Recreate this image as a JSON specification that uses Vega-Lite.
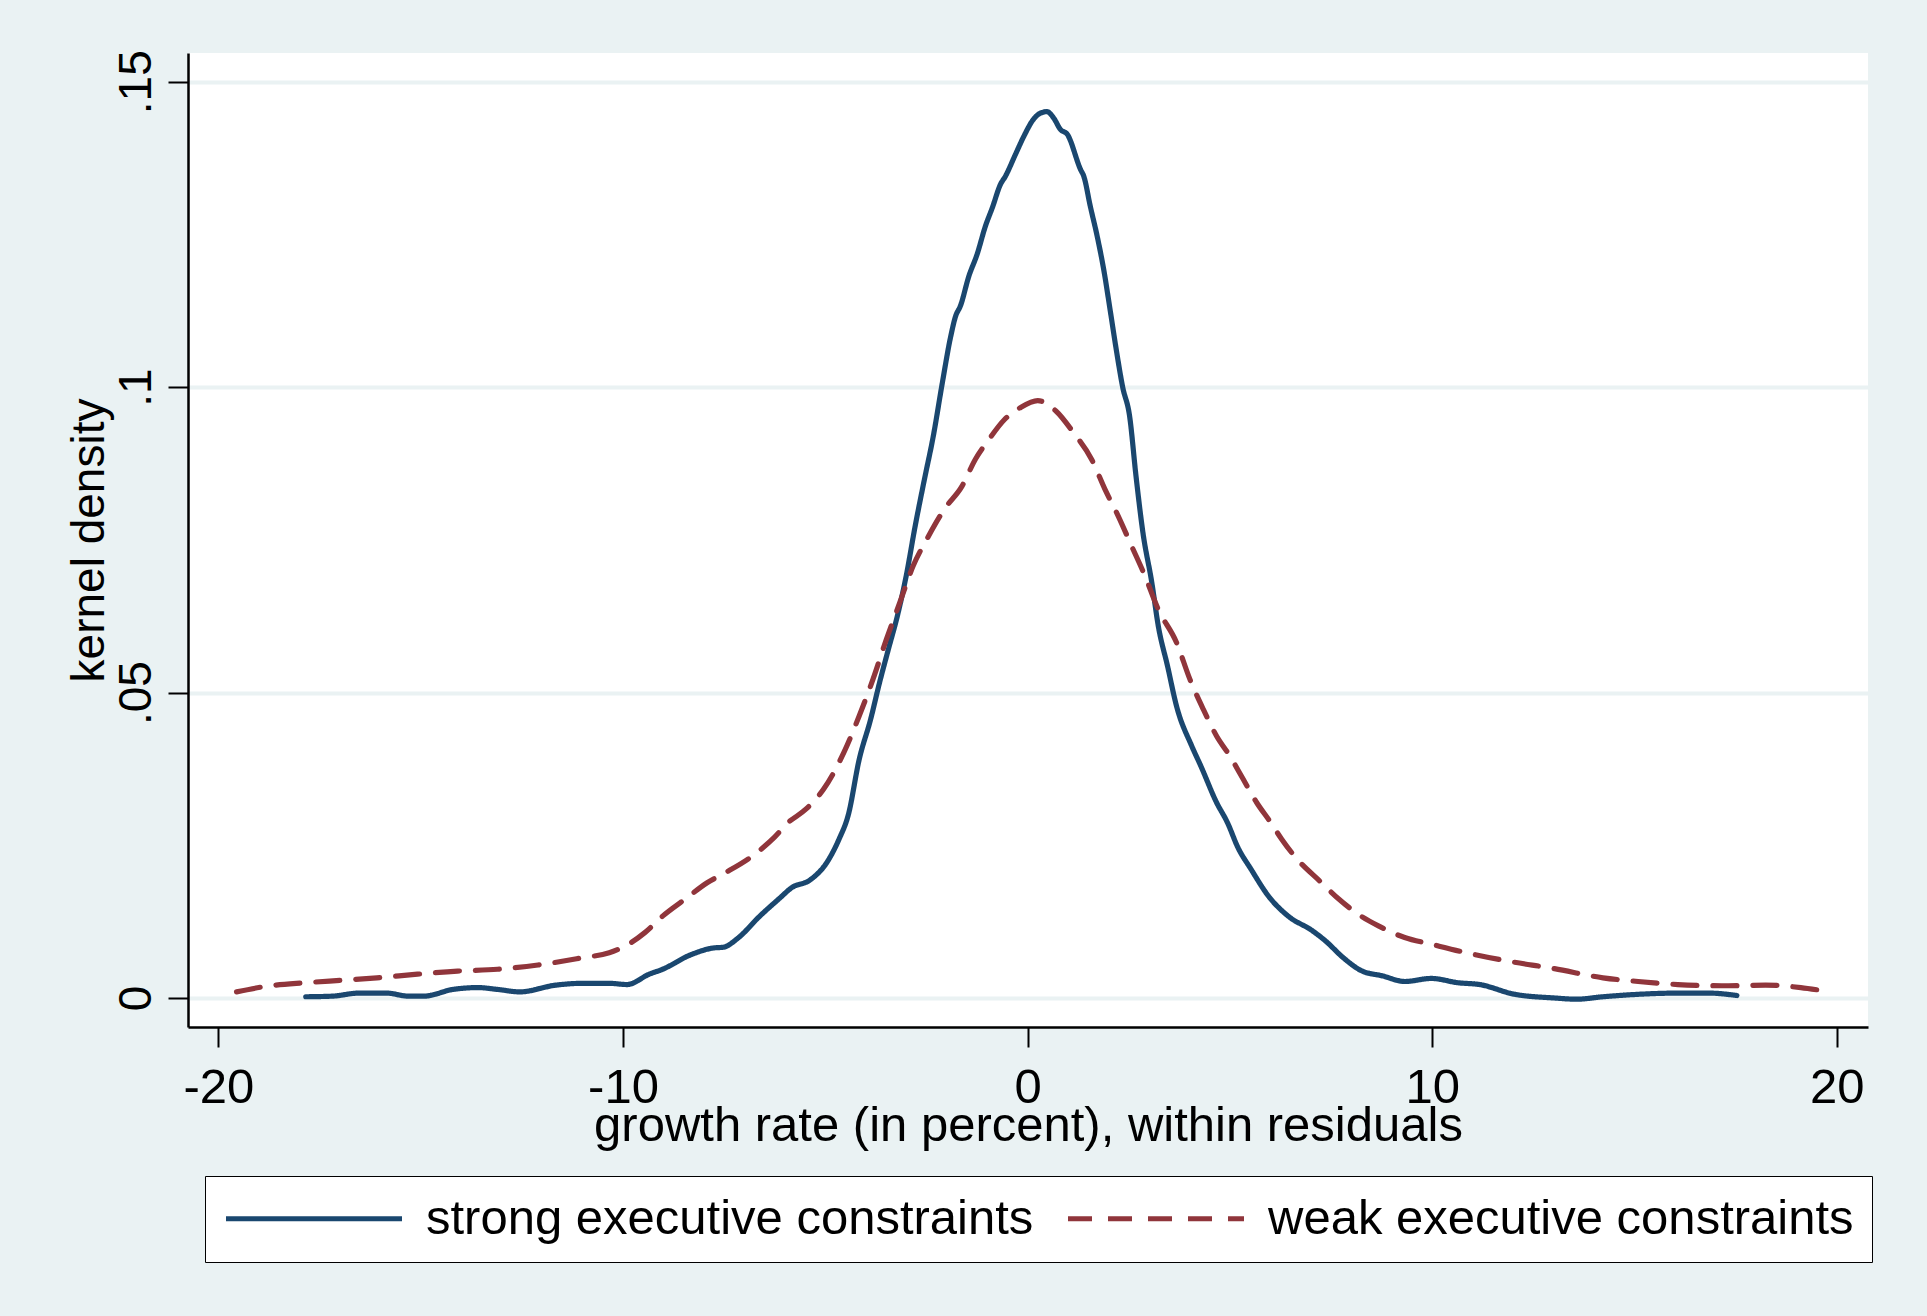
{
  "$schema": "https://vega.github.io/schema/vega-lite/v6.json",
  "width": 1680,
  "height": 974,
  "autosize": {"type": "none"},
  "padding": {"left": 188, "top": 53, "right": 59, "bottom": 289},
  "background": "#eaf2f3",
  "config": {
    "view": {"fill": "white", "stroke": null},
    "font": "Liberation Sans",
    "axis": {
      "domainColor": "black",
      "domainWidth": 2.5,
      "tickColor": "black",
      "tickWidth": 2,
      "tickSize": 20,
      "labelColor": "black",
      "labelFontSize": 49,
      "labelFont": "Liberation Sans",
      "titleColor": "black",
      "titleFontSize": 49,
      "titleFont": "Liberation Sans",
      "titleFontWeight": "normal",
      "labelOverlap": false,
      "labelFlush": false
    },
    "legend": {
      "labelFontSize": 49,
      "labelFont": "Liberation Sans",
      "labelColor": "black",
      "labelLimit": 2000
    }
  },
  "data": {
    "values": [
      {"series": "strong executive constraints", "x": -17.84, "y": 0.0002},
      {"series": "strong executive constraints", "x": -17.18, "y": 0.0003},
      {"series": "strong executive constraints", "x": -16.52, "y": 0.0008},
      {"series": "strong executive constraints", "x": -15.85, "y": 0.0008},
      {"series": "strong executive constraints", "x": -15.30, "y": 0.0003},
      {"series": "strong executive constraints", "x": -14.92, "y": 0.0003},
      {"series": "strong executive constraints", "x": -14.20, "y": 0.0014},
      {"series": "strong executive constraints", "x": -13.59, "y": 0.0017},
      {"series": "strong executive constraints", "x": -13.10, "y": 0.0014},
      {"series": "strong executive constraints", "x": -12.55, "y": 0.0010},
      {"series": "strong executive constraints", "x": -11.66, "y": 0.0021},
      {"series": "strong executive constraints", "x": -11.00, "y": 0.0024},
      {"series": "strong executive constraints", "x": -10.34, "y": 0.0024},
      {"series": "strong executive constraints", "x": -9.90, "y": 0.0022},
      {"series": "strong executive constraints", "x": -9.35, "y": 0.0039},
      {"series": "strong executive constraints", "x": -9.02, "y": 0.0047},
      {"series": "strong executive constraints", "x": -8.35, "y": 0.0070},
      {"series": "strong executive constraints", "x": -7.75, "y": 0.0082},
      {"series": "strong executive constraints", "x": -7.53, "y": 0.0083},
      {"series": "strong executive constraints", "x": -7.14, "y": 0.0099},
      {"series": "strong executive constraints", "x": -6.65, "y": 0.0132},
      {"series": "strong executive constraints", "x": -6.15, "y": 0.0162},
      {"series": "strong executive constraints", "x": -5.82, "y": 0.0181},
      {"series": "strong executive constraints", "x": -5.38, "y": 0.0193},
      {"series": "strong executive constraints", "x": -4.94, "y": 0.0224},
      {"series": "strong executive constraints", "x": -4.66, "y": 0.0260},
      {"series": "strong executive constraints", "x": -4.43, "y": 0.0300},
      {"series": "strong executive constraints", "x": -4.16, "y": 0.0391},
      {"series": "strong executive constraints", "x": -3.88, "y": 0.0456},
      {"series": "strong executive constraints", "x": -3.66, "y": 0.0516},
      {"series": "strong executive constraints", "x": -3.44, "y": 0.0571},
      {"series": "strong executive constraints", "x": -3.22, "y": 0.0625},
      {"series": "strong executive constraints", "x": -3.00, "y": 0.0691},
      {"series": "strong executive constraints", "x": -2.78, "y": 0.0772},
      {"series": "strong executive constraints", "x": -2.55, "y": 0.0849},
      {"series": "strong executive constraints", "x": -2.33, "y": 0.0920},
      {"series": "strong executive constraints", "x": -2.11, "y": 0.1006},
      {"series": "strong executive constraints", "x": -1.90, "y": 0.1083},
      {"series": "strong executive constraints", "x": -1.78, "y": 0.1116},
      {"series": "strong executive constraints", "x": -1.66, "y": 0.1133},
      {"series": "strong executive constraints", "x": -1.45, "y": 0.1182},
      {"series": "strong executive constraints", "x": -1.25, "y": 0.1217},
      {"series": "strong executive constraints", "x": -1.04, "y": 0.1264},
      {"series": "strong executive constraints", "x": -0.87, "y": 0.1294},
      {"series": "strong executive constraints", "x": -0.67, "y": 0.1332},
      {"series": "strong executive constraints", "x": -0.55, "y": 0.1345},
      {"series": "strong executive constraints", "x": -0.30, "y": 0.1381},
      {"series": "strong executive constraints", "x": -0.09, "y": 0.1411},
      {"series": "strong executive constraints", "x": 0.14, "y": 0.1438},
      {"series": "strong executive constraints", "x": 0.30, "y": 0.1448},
      {"series": "strong executive constraints", "x": 0.48, "y": 0.1451},
      {"series": "strong executive constraints", "x": 0.65, "y": 0.1440},
      {"series": "strong executive constraints", "x": 0.81, "y": 0.1422},
      {"series": "strong executive constraints", "x": 0.98, "y": 0.1414},
      {"series": "strong executive constraints", "x": 1.31, "y": 0.1356},
      {"series": "strong executive constraints", "x": 1.39, "y": 0.1345},
      {"series": "strong executive constraints", "x": 1.55, "y": 0.1296},
      {"series": "strong executive constraints", "x": 1.72, "y": 0.1247},
      {"series": "strong executive constraints", "x": 1.88, "y": 0.1193},
      {"series": "strong executive constraints", "x": 2.05, "y": 0.1122},
      {"series": "strong executive constraints", "x": 2.19, "y": 0.1062},
      {"series": "strong executive constraints", "x": 2.35, "y": 0.1000},
      {"series": "strong executive constraints", "x": 2.52, "y": 0.0953},
      {"series": "strong executive constraints", "x": 2.68, "y": 0.0854},
      {"series": "strong executive constraints", "x": 2.85, "y": 0.0762},
      {"series": "strong executive constraints", "x": 3.07, "y": 0.0680},
      {"series": "strong executive constraints", "x": 3.23, "y": 0.0609},
      {"series": "strong executive constraints", "x": 3.46, "y": 0.0543},
      {"series": "strong executive constraints", "x": 3.68, "y": 0.0478},
      {"series": "strong executive constraints", "x": 4.06, "y": 0.0412},
      {"series": "strong executive constraints", "x": 4.28, "y": 0.0380},
      {"series": "strong executive constraints", "x": 4.67, "y": 0.0320},
      {"series": "strong executive constraints", "x": 4.94, "y": 0.0287},
      {"series": "strong executive constraints", "x": 5.20, "y": 0.0246},
      {"series": "strong executive constraints", "x": 5.52, "y": 0.0211},
      {"series": "strong executive constraints", "x": 5.95, "y": 0.0167},
      {"series": "strong executive constraints", "x": 6.44, "y": 0.0134},
      {"series": "strong executive constraints", "x": 7.04, "y": 0.0110},
      {"series": "strong executive constraints", "x": 7.37, "y": 0.0093},
      {"series": "strong executive constraints", "x": 7.80, "y": 0.0066},
      {"series": "strong executive constraints", "x": 8.24, "y": 0.0045},
      {"series": "strong executive constraints", "x": 8.78, "y": 0.0036},
      {"series": "strong executive constraints", "x": 9.32, "y": 0.0027},
      {"series": "strong executive constraints", "x": 9.98, "y": 0.0032},
      {"series": "strong executive constraints", "x": 10.63, "y": 0.0025},
      {"series": "strong executive constraints", "x": 11.17, "y": 0.0022},
      {"series": "strong executive constraints", "x": 12.04, "y": 0.0006},
      {"series": "strong executive constraints", "x": 13.02, "y": 0.0000},
      {"series": "strong executive constraints", "x": 13.56, "y": -0.0002},
      {"series": "strong executive constraints", "x": 14.22, "y": 0.0002},
      {"series": "strong executive constraints", "x": 15.09, "y": 0.0006},
      {"series": "strong executive constraints", "x": 16.07, "y": 0.0008},
      {"series": "strong executive constraints", "x": 16.83, "y": 0.0008},
      {"series": "strong executive constraints", "x": 17.53, "y": 0.0004},
      {"series": "weak executive constraints", "x": -19.55, "y": 0.0010},
      {"series": "weak executive constraints", "x": -18.72, "y": 0.0020},
      {"series": "weak executive constraints", "x": -17.84, "y": 0.0025},
      {"series": "weak executive constraints", "x": -16.96, "y": 0.0029},
      {"series": "weak executive constraints", "x": -16.08, "y": 0.0033},
      {"series": "weak executive constraints", "x": -15.08, "y": 0.0039},
      {"series": "weak executive constraints", "x": -14.09, "y": 0.0044},
      {"series": "weak executive constraints", "x": -13.10, "y": 0.0047},
      {"series": "weak executive constraints", "x": -12.10, "y": 0.0054},
      {"series": "weak executive constraints", "x": -11.00, "y": 0.0066},
      {"series": "weak executive constraints", "x": -10.34, "y": 0.0074},
      {"series": "weak executive constraints", "x": -9.79, "y": 0.0091},
      {"series": "weak executive constraints", "x": -9.46, "y": 0.0107},
      {"series": "weak executive constraints", "x": -9.02, "y": 0.0134},
      {"series": "weak executive constraints", "x": -8.46, "y": 0.0162},
      {"series": "weak executive constraints", "x": -7.91, "y": 0.0189},
      {"series": "weak executive constraints", "x": -7.47, "y": 0.0205},
      {"series": "weak executive constraints", "x": -6.81, "y": 0.0232},
      {"series": "weak executive constraints", "x": -6.26, "y": 0.0263},
      {"series": "weak executive constraints", "x": -5.92, "y": 0.0287},
      {"series": "weak executive constraints", "x": -5.48, "y": 0.0309},
      {"series": "weak executive constraints", "x": -5.04, "y": 0.0342},
      {"series": "weak executive constraints", "x": -4.54, "y": 0.0402},
      {"series": "weak executive constraints", "x": -4.16, "y": 0.0462},
      {"series": "weak executive constraints", "x": -3.82, "y": 0.0522},
      {"series": "weak executive constraints", "x": -3.49, "y": 0.0587},
      {"series": "weak executive constraints", "x": -3.16, "y": 0.0647},
      {"series": "weak executive constraints", "x": -2.83, "y": 0.0707},
      {"series": "weak executive constraints", "x": -2.45, "y": 0.0756},
      {"series": "weak executive constraints", "x": -2.06, "y": 0.0800},
      {"series": "weak executive constraints", "x": -1.62, "y": 0.0838},
      {"series": "weak executive constraints", "x": -1.29, "y": 0.0882},
      {"series": "weak executive constraints", "x": -0.96, "y": 0.0914},
      {"series": "weak executive constraints", "x": -0.57, "y": 0.0947},
      {"series": "weak executive constraints", "x": -0.19, "y": 0.0966},
      {"series": "weak executive constraints", "x": 0.25, "y": 0.0978},
      {"series": "weak executive constraints", "x": 0.70, "y": 0.0961},
      {"series": "weak executive constraints", "x": 1.14, "y": 0.0925},
      {"series": "weak executive constraints", "x": 1.58, "y": 0.0882},
      {"series": "weak executive constraints", "x": 1.91, "y": 0.0833},
      {"series": "weak executive constraints", "x": 2.24, "y": 0.0789},
      {"series": "weak executive constraints", "x": 2.57, "y": 0.0740},
      {"series": "weak executive constraints", "x": 2.90, "y": 0.0691},
      {"series": "weak executive constraints", "x": 3.23, "y": 0.0636},
      {"series": "weak executive constraints", "x": 3.68, "y": 0.0582},
      {"series": "weak executive constraints", "x": 4.01, "y": 0.0522},
      {"series": "weak executive constraints", "x": 4.34, "y": 0.0473},
      {"series": "weak executive constraints", "x": 4.67, "y": 0.0429},
      {"series": "weak executive constraints", "x": 5.00, "y": 0.0396},
      {"series": "weak executive constraints", "x": 5.33, "y": 0.0358},
      {"series": "weak executive constraints", "x": 5.66, "y": 0.0320},
      {"series": "weak executive constraints", "x": 5.99, "y": 0.0289},
      {"series": "weak executive constraints", "x": 6.28, "y": 0.0260},
      {"series": "weak executive constraints", "x": 6.60, "y": 0.0232},
      {"series": "weak executive constraints", "x": 7.26, "y": 0.0189},
      {"series": "weak executive constraints", "x": 7.69, "y": 0.0162},
      {"series": "weak executive constraints", "x": 8.24, "y": 0.0134},
      {"series": "weak executive constraints", "x": 8.67, "y": 0.0118},
      {"series": "weak executive constraints", "x": 9.32, "y": 0.0099},
      {"series": "weak executive constraints", "x": 9.98, "y": 0.0088},
      {"series": "weak executive constraints", "x": 10.85, "y": 0.0074},
      {"series": "weak executive constraints", "x": 11.82, "y": 0.0061},
      {"series": "weak executive constraints", "x": 13.02, "y": 0.0048},
      {"series": "weak executive constraints", "x": 14.22, "y": 0.0033},
      {"series": "weak executive constraints", "x": 15.09, "y": 0.0027},
      {"series": "weak executive constraints", "x": 16.07, "y": 0.0022},
      {"series": "weak executive constraints", "x": 17.15, "y": 0.0020},
      {"series": "weak executive constraints", "x": 18.24, "y": 0.0021},
      {"series": "weak executive constraints", "x": 19.11, "y": 0.0017},
      {"series": "weak executive constraints", "x": 19.55, "y": 0.0013}
    ]
  },
  "mark": {"type": "line", "strokeWidth": 5.2, "strokeCap": "round", "strokeJoin": "round", "interpolate": "monotone", "clip": true},
  "encoding": {
    "x": {
      "field": "x",
      "type": "quantitative",
      "scale": {"domain": [-20.75, 20.77], "nice": false, "zero": false},
      "axis": {
        "values": [-20, -10, 0, 10, 20],
        "grid": false,
        "labelPadding": 16,
        "labelExpr": "'' + datum.value",
        "title": "growth rate (in percent), within residuals",
        "titleBaseline": "alphabetic",
        "titleY": 113
      }
    },
    "y": {
      "field": "y",
      "type": "quantitative",
      "scale": {"domain": [-0.00475, 0.1547], "nice": false, "zero": false},
      "axis": {
        "values": [0, 0.05, 0.1, 0.15],
        "grid": true,
        "gridColor": "#eaf2f3",
        "gridWidth": 4,
        "labelAngle": 270,
        "labelAlign": "center",
        "labelBaseline": "bottom",
        "labelPadding": 8,
        "labelFontSize": 46,
        "labelExpr": "datum.value == 0 ? '0' : replace(format(datum.value, '.2~f'), '0.', '.')",
        "title": "kernel density",
        "titleFontSize": 46,
        "titleAngle": 270,
        "titleBaseline": "alphabetic",
        "titleX": -85,
        "titleY": 487
      }
    },
    "color": {
      "field": "series",
      "type": "nominal",
      "scale": {"domain": ["strong executive constraints", "weak executive constraints"], "range": ["#1a476f", "#90353b"]},
      "legend": {
        "title": null,
        "orient": "none",
        "legendX": 17,
        "legendY": 1123,
        "direction": "horizontal",
        "symbolType": "stroke",
        "symbolSize": 30976,
        "symbolStrokeWidth": 5.2,
        "clipHeight": 49,
        "labelOffset": 21,
        "columnPadding": 31,
        "padding": 18,
        "fillColor": "white",
        "strokeColor": "black"
      }
    },
    "strokeDash": {
      "field": "series",
      "type": "nominal",
      "scale": {"domain": ["strong executive constraints", "weak executive constraints"], "range": [[1, 0], [24, 16]]},
      "legend": {
        "title": null,
        "orient": "none",
        "legendX": 17,
        "legendY": 1123,
        "direction": "horizontal",
        "symbolType": "stroke",
        "symbolSize": 30976,
        "symbolStrokeWidth": 5.2,
        "clipHeight": 49,
        "labelOffset": 21,
        "columnPadding": 31,
        "padding": 18,
        "fillColor": "white",
        "strokeColor": "black"
      }
    }
  }
}
